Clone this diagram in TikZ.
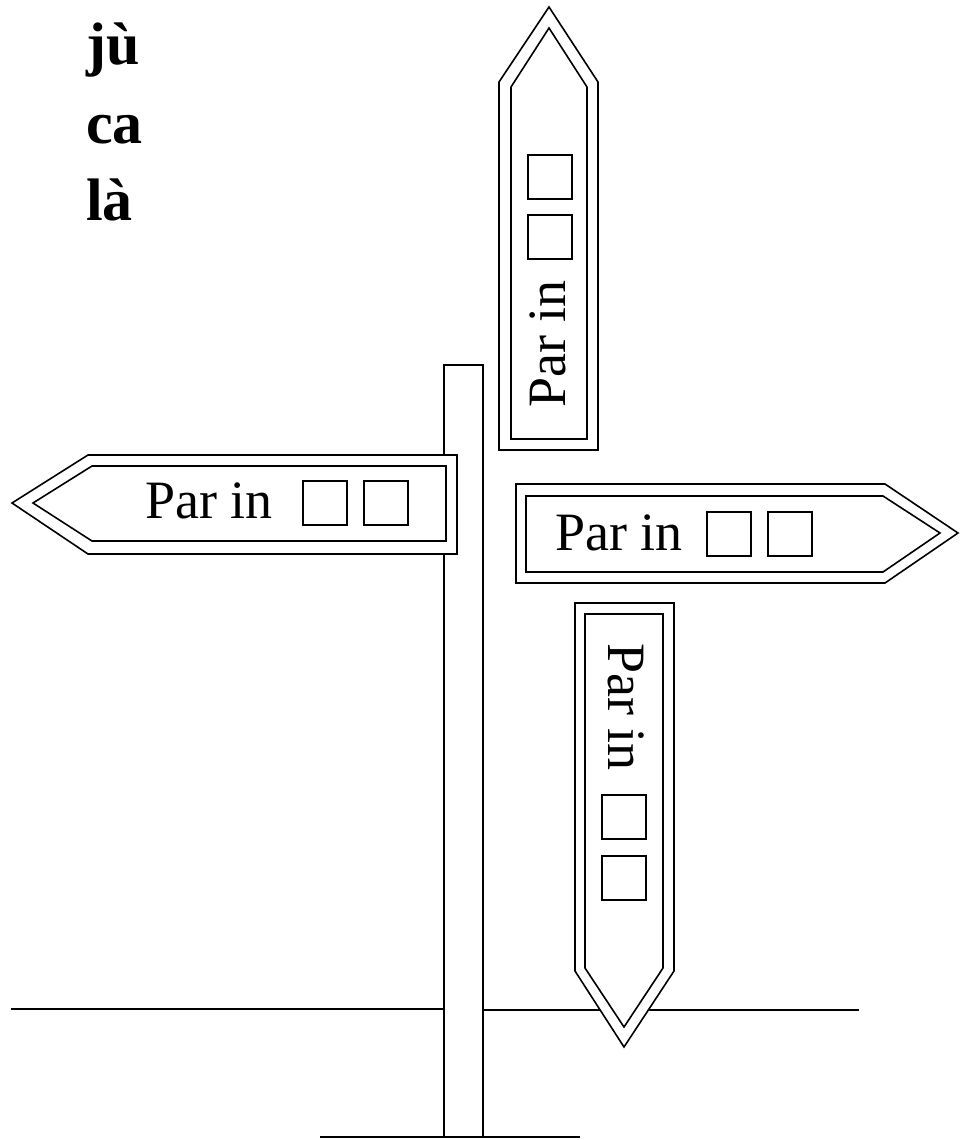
\documentclass[tikz,border=0pt]{standalone}
\usepackage{fontspec}
\setmainfont{Liberation Serif}
\usepackage{tikz}
\usetikzlibrary{positioning}

\begin{document}
\begin{tikzpicture}[x=1pt,y=-1pt,line join=miter]
    \tikzstyle{board}=[draw,fill=white,line width=1.6pt]
    \tikzstyle{slot}=[draw,line width=1.4pt,minimum size=44pt,inner sep=0pt]
    \tikzstyle{label}=[inner sep=0pt,font=\fontsize{54}{60}\selectfont]
    \tikzstyle{pinyin}=[inner sep=0pt,anchor=base west,font=\fontsize{60}{70}\selectfont\bfseries]

    \useasboundingbox (0,0) rectangle (962,1140);

    % ground and post
    \coordinate (G1) at (11,1009);
    \coordinate (G2) at (444,1009);
    \coordinate (G3) at (483,1010);
    \coordinate (G4) at (859,1010);
    \coordinate (F1) at (320,1137);
    \coordinate (F2) at (580,1137);
    \draw[line width=1.6pt] (G1) -- (G2);
    \draw[line width=1.6pt] (G3) -- (G4);
    \draw[line width=2.4pt] (F1) -- (F2);
    \draw[line width=1.4pt,fill=white] (444,1137) rectangle (483,365);

    % left sign
    \draw[board] (12,503) -- (88,455) -- (457,455) -- (457,554) -- (88,554) -- cycle;
    \draw[board] (33,503) -- (92,466) -- (446,466) -- (446,541) -- (92,541) -- cycle;
	\node[label,anchor=base west] (L) at (145,518) {Par in};
	\node[slot] (L1) at (325,503) {};
	\node[slot] (L2) at (386,503) {};

    % right sign
    \draw[board] (516,484) -- (885,484) -- (958,533) -- (885,583) -- (516,583) -- cycle;
    \draw[board] (526,496) -- (883,496) -- (940,533) -- (883,572) -- (526,572) -- cycle;
	\node[label,anchor=base west] (R) at (555,550) {Par in};
	\node[slot] (R1) at (729,534) {};
	\node[slot] (R2) at (790,534) {};

    % top sign
    \draw[board] (499,450) -- (499,82) -- (549,7) -- (598,82) -- (598,450) -- cycle;
    \draw[board] (511,439) -- (511,87) -- (549,28) -- (587,87) -- (587,439) -- cycle;
	\node[label,anchor=base west,rotate=90] (T) at (565,408) {Par in};
	\node[slot] (T1) at (550,177) {};
	\node[slot] (T2) at (550,237) {};

    % bottom sign
    \draw[board] (575,603) -- (674,603) -- (674,971) -- (624,1047) -- (575,971) -- cycle;
    \draw[board] (585,614) -- (663,614) -- (663,968) -- (624,1027) -- (585,968) -- cycle;
	\node[label,anchor=base west,rotate=-90] (B) at (608,643) {Par in};
	\node[slot] (B1) at (624,817) {};
	\node[slot] (B2) at (624,878) {};

    % heading
    \node[pinyin] (P1) at (86,65) {jù};
    \node[pinyin] (P2) at (86,143) {ca};
    \node[pinyin] (P3) at (86,220) {là};
\end{tikzpicture}
\end{document}
